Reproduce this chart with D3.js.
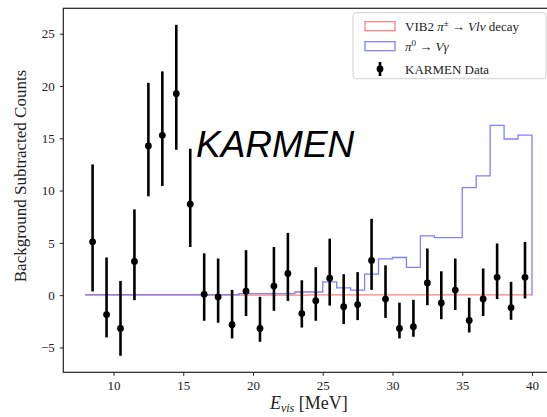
<!DOCTYPE html>
<html>
<head>
<meta charset="utf-8">
<script src="https://cdn.jsdelivr.net/npm/d3@7"></script>
<style>
  body { margin: 0; background: #fff; overflow: hidden; }
  svg { display: block; }
  .tick text { font-family: "Liberation Serif", serif; font-size: 13px; fill: #222; }
</style>
</head>
<body>
<div id="plot"></div>
<script>
// bins (left edges, 1 MeV wide) for the two step histograms
const binLeft = [8, 9, 10, 11, 12, 13, 14, 15, 16, 17, 18, 19, 20, 21, 22, 23,
                 24, 25, 26, 27, 28, 29, 30, 31, 32, 33, 34, 35, 36, 37, 38, 39];
const binRight = 40;

// VIB2 pi+- -> V l nu decay (red), essentially flat at zero
const vib2 = [0.01, 0.01, 0.01, 0.01, 0.01, 0.01, 0.01, 0.01, 0.01, 0.01, 0.01, 0.01, 0.01, 0.01, 0.01, 0.01,
              0.02, 0.02, 0.02, 0.02, 0.02, 0.02, 0.02, 0.02, 0.03, 0.03, 0.03, 0.03, 0.03, 0.03, 0.03, 0.03];

// pi0 -> V gamma (blue)
const pi0 = [0.05, 0.05, 0.05, 0.05, 0.05, 0.05, 0.05, 0.05, 0.05, 0.05, 0.05, 0.15, 0.15, 0.15, 0.15, 0.3,
             0.3, 1.27, 0.7, 0.48, 2.0, 3.47, 3.6, 2.65, 5.66, 5.5, 5.5, 10.29, 11.4, 16.24, 14.93, 15.3];

// KARMEN data points with error bars
const dataE = [8.5, 9.5, 10.5, 11.5, 12.5, 13.5, 14.5, 15.5, 16.5, 17.5, 18.5, 19.5, 20.5, 21.5, 22.5, 23.5,
               24.5, 25.5, 26.5, 27.5, 28.5, 29.5, 30.5, 31.5, 32.5, 33.5, 34.5, 35.5, 36.5, 37.5, 38.5, 39.5];
const dataY = [5.1, -1.86, -3.18, 3.22, 14.26, 15.28, 19.26, 8.69, 0.08, -0.17, -2.83, 0.38, -3.18, 0.87, 2.08, -1.76,
               -0.53, 1.62, -1.11, -0.9, 3.32, -0.38, -3.18, -3.02, 1.16, -0.75, 0.48, -2.42, -0.37, 1.7, -1.2, 1.7];
const dataLo = [0.35, -4.04, -5.8, -0.48, 9.45, 10.44, 13.9, 4.6, -2.45, -2.64, -4.14, -2.0, -4.46, -1.5, -0.55, -3.1,
                -2.45, -1.0, -2.77, -2.39, 0.5, -2.18, -4.14, -3.98, -0.96, -2.3, -1.42, -3.57, -2.0, -0.38, -2.36, -0.32];
const dataHi = [12.5, 3.6, 1.36, 8.2, 20.3, 21.4, 25.85, 14.0, 4.0, 3.5, 0.5, 4.3, -0.16, 4.6, 5.95, 1.42,
                2.67, 5.4, 2.0, 2.2, 7.3, 2.85, -0.72, -0.45, 4.46, 2.28, 3.5, -0.25, 2.55, 4.94, 1.27, 5.09];

const xTicks = [10, 15, 20, 25, 30, 35, 40];
const yTicks = [-5, 0, 5, 10, 15, 20, 25];

const width = 547, height = 417;
const marginLeft = 63.3, frameRight = 554.3, marginTop = 8.3, frameBottom = 372.3;

const x = d3.scaleLinear([6.4, 41.6], [marginLeft, frameRight]);
const y = d3.scaleLinear([-7.38, 27.43], [frameBottom, marginTop]);

const svg = d3.select("#plot").append("svg")
  .attr("width", width)
  .attr("height", height)
  .attr("viewBox", [0, 0, width, height]);

// step histogram outline (open at the bottom like matplotlib histtype="step")
function stepPath(vals) {
  const p = [[binLeft[0], 0]];
  binLeft.forEach((b, i) => p.push([b, vals[i]]));
  p.push([binRight, vals[vals.length - 1]]);
  p.push([binRight, 0]);
  return d3.line().curve(d3.curveStepAfter).x(d => x(d[0])).y(d => y(d[1]))(p);
}

svg.append("path")
  .attr("d", stepPath(vib2))
  .attr("fill", "none")
  .attr("stroke", "rgb(255,128,128)")
  .attr("stroke-width", 1.3);

svg.append("path")
  .attr("d", stepPath(pi0))
  .attr("fill", "none")
  .attr("stroke", "rgb(128,128,255)")
  .attr("stroke-width", 1.3);

// error bars
const bars = svg.append("g");
dataE.forEach((e, i) => {
  bars.append("line")
    .attr("x1", x(e)).attr("x2", x(e))
    .attr("y1", y(dataLo[i])).attr("y2", y(dataHi[i]))
    .attr("stroke", "#000")
    .attr("stroke-width", 2.6);
  bars.append("circle")
    .attr("cx", x(e)).attr("cy", y(dataY[i]))
    .attr("r", 3.4)
    .attr("fill", "#000");
});

// axes
const fmt = d => d < 0 ? "\u2212" + Math.abs(d) : String(d);

svg.append("g")
  .attr("transform", `translate(0,${frameBottom})`)
  .call(d3.axisBottom(x).tickValues(xTicks).tickFormat(fmt).tickSize(3.5).tickPadding(5))
  .call(g => g.select(".domain").remove())
  .call(g => g.selectAll(".tick line").attr("stroke", "#222"));

svg.append("g")
  .attr("transform", `translate(${marginLeft},0)`)
  .call(d3.axisLeft(y).tickValues(yTicks).tickFormat(fmt).tickSize(3.5).tickPadding(5))
  .call(g => g.select(".domain").remove())
  .call(g => g.selectAll(".tick line").attr("stroke", "#222"));

// frame
svg.append("rect")
  .attr("x", marginLeft).attr("y", marginTop)
  .attr("width", frameRight - marginLeft).attr("height", frameBottom - marginTop)
  .attr("fill", "none")
  .attr("stroke", "#222")
  .attr("stroke-width", 1.2);

// axis labels
svg.append("text")
  .attr("transform", "translate(26,176) rotate(-90)")
  .attr("text-anchor", "middle")
  .attr("font-family", "Liberation Serif, serif")
  .attr("font-size", 17)
  .attr("fill", "#222")
  .text("Background Subtracted Counts");

const xl = svg.append("text")
  .attr("x", (marginLeft + frameRight) / 2)
  .attr("y", 409)
  .attr("text-anchor", "middle")
  .attr("font-family", "Liberation Serif, serif")
  .attr("font-size", 18)
  .attr("fill", "#222");
xl.append("tspan").attr("font-style", "italic").text("E");
xl.append("tspan").attr("font-style", "italic").attr("font-size", 12).attr("dy", 3).text("vis");
xl.append("tspan").attr("dy", -3).text(" [MeV]");

// big label
svg.append("text")
  .attr("x", 196)
  .attr("y", 156.5)
  .attr("font-family", "Liberation Sans, Arial, sans-serif")
  .attr("font-style", "italic")
  .attr("font-size", 37)
  .attr("fill", "#000")
  .text("KARMEN");

// legend
const lg = svg.append("g");
lg.append("rect")
  .attr("x", 353).attr("y", 12.7)
  .attr("width", 193).attr("height", 66)
  .attr("rx", 3)
  .attr("fill", "#fff").attr("fill-opacity", 0.8)
  .attr("stroke", "#d0d0d0").attr("stroke-width", 1);

lg.append("rect")
  .attr("x", 365).attr("y", 21.7).attr("width", 30).attr("height", 9)
  .attr("fill", "none").attr("stroke", "rgb(255,128,128)").attr("stroke-width", 1.3);
lg.append("rect")
  .attr("x", 365).attr("y", 41.7).attr("width", 30).attr("height", 9)
  .attr("fill", "none").attr("stroke", "rgb(128,128,255)").attr("stroke-width", 1.3);
lg.append("line")
  .attr("x1", 380).attr("x2", 380).attr("y1", 62).attr("y2", 76)
  .attr("stroke", "#000").attr("stroke-width", 2.6);
lg.append("circle")
  .attr("cx", 380).attr("cy", 69).attr("r", 3.4).attr("fill", "#000");

const lt = (yy) => lg.append("text")
  .attr("x", 405).attr("y", yy)
  .attr("font-family", "Liberation Serif, serif")
  .attr("font-size", 13)
  .attr("fill", "#222");

const t1 = lt(30.5);
t1.append("tspan").text("VIB2 ");
t1.append("tspan").attr("font-style", "italic").text("\u03c0");
t1.append("tspan").attr("font-size", 9).attr("dy", -5).text("\u00b1");
t1.append("tspan").attr("dy", 5).text(" \u2192 ");
t1.append("tspan").attr("font-style", "italic").text("Vl\u03bd");
t1.append("tspan").text(" decay");

const t2 = lt(50.5);
t2.append("tspan").attr("font-style", "italic").text("\u03c0");
t2.append("tspan").attr("font-size", 9).attr("dy", -5).text("0");
t2.append("tspan").attr("dy", 5).text(" \u2192 ");
t2.append("tspan").attr("font-style", "italic").text("V\u03b3");

lt(73.5).text("KARMEN Data");
</script>
</body>
</html>
